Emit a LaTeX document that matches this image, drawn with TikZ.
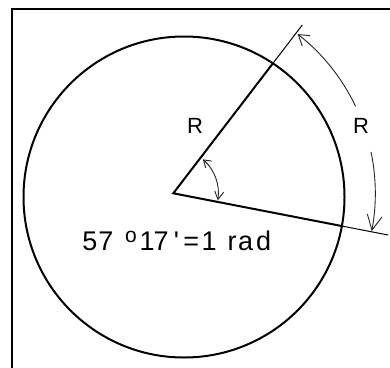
\documentclass[tikz,border=0pt]{standalone}
\usepackage{fontspec}
\newfontfamily\arialf{Liberation Sans}
\usetikzlibrary{arrows.meta,calc}
\begin{document}
\begin{tikzpicture}[x=1pt,y=1pt,
  thickline/.style={line width=2pt,black},
  thinline/.style={line width=1pt,black},
  dim/.style={line width=0.9pt,black!85},
  lbl/.style={font=\arialf\fontsize{22}{24}\selectfont,inner sep=0pt},
  eq/.style={font=\arialf\fontsize{27}{30}\selectfont,inner sep=0pt,anchor=base west}]
\useasboundingbox (0,0) rectangle (390,367);
\fill[white] (0,0) rectangle (390,367);
% frame
\coordinate (F1) at (12,-3);
\coordinate (F2) at (12,358);
\coordinate (F3) at (393,358);
\draw[line width=2.5pt] (F1) -- (F2) -- (F3);
% geometry
\coordinate (C) at (184,170);
\coordinate (V) at (173.3,173.7);
\coordinate (U) at (302.3,342);
\coordinate (L) at (388,132);
\coordinate (Ui) at ($(V)!0.773!(U)$);
\coordinate (Li) at ($(V)!0.79!(L)$);
\draw[thickline] (C) circle[radius=160.5];
\draw[thickline, line join=miter] (Ui) -- (V) -- (Li);
\draw[thinline] (Ui) -- (U);
\draw[thinline] (Li) -- (L);
% outer arc R
\draw[dim, {Straight Barb[length=10pt,width=13pt]}-] ([shift={(52:202)}]V) arc[start angle=52, end angle=25.5, radius=202];
\draw[dim, -{Straight Barb[length=15pt,width=15pt]}] ([shift={(11.8:202)}]V) arc[start angle=11.8, end angle=-10.8, radius=202];
% small angle arc
\draw[dim, {Straight Barb[length=7pt,width=9pt]}-{Straight Barb[length=8pt,width=9pt]}] ([shift={(49:45)}]V) arc[start angle=49, end angle=-9, radius=45];
% labels
\node[lbl] (r1) at (195,241) {R};
\node[lbl] (r2) at (361,241) {R};
\node[eq] (t) at (82.2,116.3) {5\kern1.1pt 7\kern11.7pt\raisebox{8.5pt}{\fontsize{21}{24}\selectfont o}\kern2.7pt 1\kern-1pt 7\kern5.2pt '\kern4.5pt =\kern2.3pt 1 \kern3.5pt r\kern1.5pt a\kern3pt d};
\end{tikzpicture}
\end{document}
